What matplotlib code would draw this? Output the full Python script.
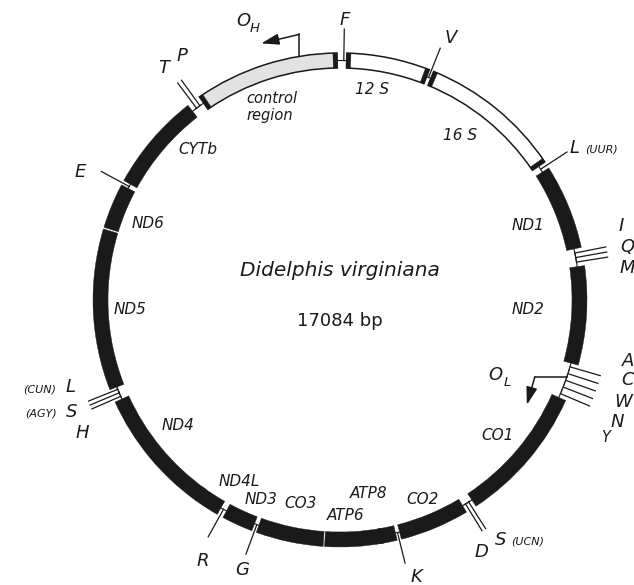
import numpy as np
import matplotlib.pyplot as plt
from matplotlib.patches import Wedge, FancyArrowPatch

# Didelphis virginiana mtDNA map, positions in bp clockwise from the top
GENOME_BP = 17084

gene_names = ["12 S", "16 S", "ND1", "ND2", "CO1", "CO2", "ATP8", "ATP6", "CO3",
              "ND3", "ND4L", "ND4", "ND5", "ND6", "CYTb", "control\nregion"]
gene_start = [76, 1058, 2738, 3891, 5410, 7080, 7906, 8060, 8728,
              9534, 9956, 10227, 11802, 13625, 14185, 15438]
gene_end = [1006, 2658, 3687, 4997, 6957, 7859, 8100, 8713, 9482,
            9885, 10251, 11655, 13606, 14132, 15281, 17051]
gene_kind = ["rrna", "rrna", "prot", "prot", "prot", "prot", "prot", "prot", "prot",
             "prot", "prot", "prot", "prot", "prot", "prot", "control"]

trna_names = ["F", "V", "L", "I", "Q", "M", "A", "C", "W", "N", "Y",
              "S", "D", "K", "G", "R", "H", "S", "L", "E", "T", "P"]
trna_codon = ["", "", "(UUR)", "", "", "", "", "", "", "", "",
              "(UCN)", "", "", "", "", "", "(AGY)", "(CUN)", "", "", ""]
trna_pos = [43, 1030, 2700, 3735, 3787, 3839, 5040, 5121, 5201, 5282, 5363,
            7000, 7042, 7883, 9506, 9923, 11688, 11731, 11774, 14156, 15338, 15385]

origin_names = ["H", "L"]
origin_pos = [16633, 5159]

# ---- layout (pixel space of the 634x585 picture) ----
CX, CY = 340, 300
R_OUT, R_IN = 247, 232
R_MID = (R_OUT + R_IN) / 2
R_TICK = 271
CAP_BP = 45

gene_label_xy = [(372, 90), (460, 135), (528, 225), (528, 309), (498, 435),
                 (423, 500), (369, 493), (346, 515), (301, 503), (261, 500),
                 (239, 482), (178, 426), (130, 310), (148, 224), (198, 150),
                 (272, 107)]
trna_label_xy = [(345, 20), (451, 38), (575, 148), (621, 226), (627, 247),
                 (627, 268), (628, 361), (628, 380), (623, 402), (617, 422),
                 (606, 438), (501, 540), (481, 552), (416, 577), (242, 570),
                 (203, 561), (82, 433), (72, 412), (71, 387), (80, 172),
                 (164, 68), (182, 56)]

INK = "#1a1a1a"
FONT = "DejaVu Sans"


def ang(bp):
    return bp / GENOME_BP * 360.0


def xy(bp, r):
    t = np.radians(ang(bp))
    return CX + r * np.sin(t), CY - r * np.cos(t)


def ring(ax, s, e, **kw):
    ax.add_patch(Wedge((CX, CY), R_OUT, ang(s) - 90, ang(e) - 90,
                       width=R_OUT - R_IN, **kw))


fig = plt.figure(figsize=(6.34, 5.85), dpi=100)
ax = fig.add_axes([0, 0, 1, 1])
ax.set_xlim(0, 634)
ax.set_ylim(585, 0)
ax.axis("off")

# thin line through the tRNA gaps
for p in trna_pos:
    a = np.linspace(p - 60, p + 60, 20)
    px, py = xy(a, R_MID)
    ax.plot(px, py, color=INK, lw=0.8, zorder=1)

# tRNA ticks
for p in trna_pos:
    (x0, y0), (x1, y1) = xy(p, R_MID), xy(p, R_TICK)
    ax.plot([x0, x1], [y0, y1], color=INK, lw=0.9, zorder=2)

# genes
for s, e, kind in zip(gene_start, gene_end, gene_kind):
    if kind == "prot":
        ring(ax, s, e, fc=INK, ec=INK, lw=0.3, zorder=3)
    else:
        fc = "white" if kind == "rrna" else "#e2e2e2"
        ring(ax, s, e, fc=fc, ec=INK, lw=1.1, zorder=3)
        ring(ax, s, s + CAP_BP, fc=INK, ec=INK, lw=0.3, zorder=4)
        ring(ax, e - CAP_BP, e, fc=INK, ec=INK, lw=0.3, zorder=4)

# gene labels
for name, (lx, ly) in zip(gene_names, gene_label_xy):
    fs = 10.5 if "\n" in name else 11
    ax.text(lx, ly, name, ha="center", va="center", fontsize=fs, style="italic",
            family=FONT, color=INK, multialignment="left", linespacing=1.15)

# tRNA labels
for name, codon, (lx, ly) in zip(trna_names, trna_codon, trna_label_xy):
    fs = 10.5 if name == "Y" else 13
    ax.text(lx, ly, name, ha="center", va="center", fontsize=fs, style="italic",
            family=FONT, color=INK)
    if codon:
        if lx > CX:
            ax.text(lx + 10, ly + 2, codon, ha="left", va="center", fontsize=8,
                    style="italic", family=FONT, color=INK)
        else:
            ax.text(lx - 15, ly + 2, codon, ha="right", va="center", fontsize=8,
                    style="italic", family=FONT, color=INK)

# replication origins with arrows
arrow_path = {"H": [(0, -22), (-38, -13)], "L": [(-32, 0), (-40, 28)]}
origin_label_xy = {"H": (243, 21), "L": (495, 375)}
for name, p in zip(origin_names, origin_pos):
    x0, y0 = xy(p, R_OUT if name == "H" else R_MID)
    (dx1, dy1), (dx2, dy2) = arrow_path[name]
    ax.plot([x0, x0 + dx1], [y0, y0 + dy1], color=INK, lw=1.1, zorder=2)
    ax.add_patch(FancyArrowPatch((x0 + dx1, y0 + dy1), (x0 + dx2, y0 + dy2),
                                 arrowstyle="-|>,head_length=0.9,head_width=0.28",
                                 mutation_scale=12, color=INK, lw=1.1,
                                 shrinkA=0, shrinkB=0, zorder=2))
    ox, oy = origin_label_xy[name]
    ax.text(ox, oy, "O", ha="center", va="center", fontsize=13, style="italic",
            family=FONT, color=INK)
    ax.text(ox + 12, oy + 8, name, ha="center", va="center", fontsize=9.5,
            style="italic", family=FONT, color=INK)

# centre titles
ax.text(CX, 270, "Didelphis virginiana", ha="center", va="center", fontsize=14.5,
        style="italic", family=FONT, color=INK)
ax.text(CX, 321, f"{GENOME_BP} bp", ha="center", va="center", fontsize=13,
        family=FONT, color=INK)

fig.savefig("out.png", dpi=100)
